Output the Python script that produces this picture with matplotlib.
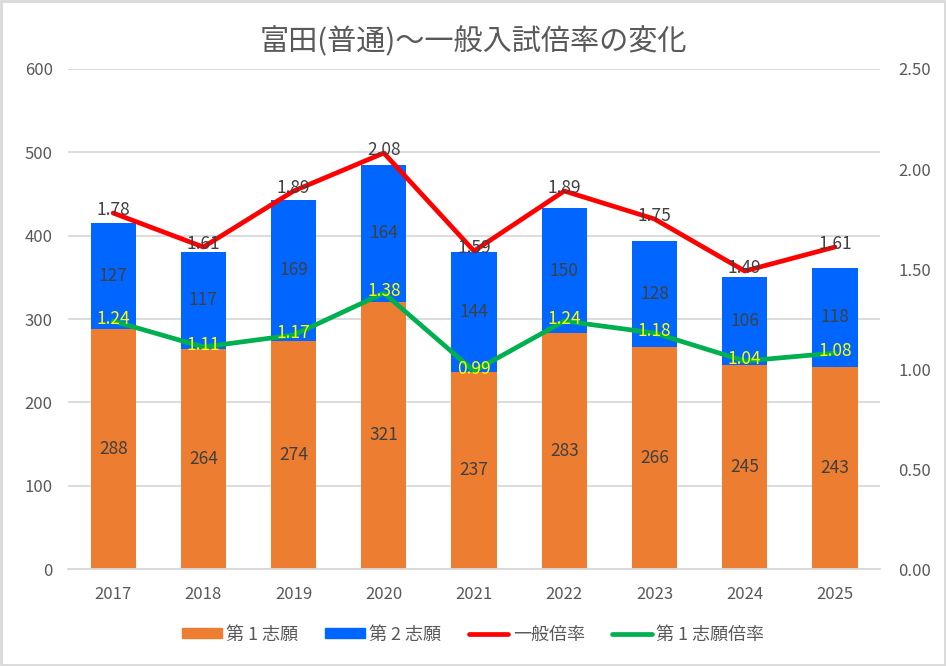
import numpy as np
import matplotlib.pyplot as plt
from matplotlib.patches import Patch, Rectangle
from matplotlib.lines import Line2D

plt.rcParams['font.family'] = ['Noto Sans CJK JP', 'DejaVu Sans']

# データ
years = ['2017', '2018', '2019', '2020', '2021', '2022', '2023', '2024', '2025']
first_choice = [288, 264, 274, 321, 237, 283, 266, 245, 243]
second_choice = [127, 117, 169, 164, 144, 150, 128, 106, 118]
general_ratio = [1.78, 1.61, 1.89, 2.08, 1.59, 1.89, 1.75, 1.49, 1.61]
first_ratio = [1.24, 1.11, 1.17, 1.38, 0.99, 1.24, 1.18, 1.04, 1.08]

orange = '#ED7D31'
blue = '#0066FF'
red = '#FF0000'
green = '#00B050'
txt = '#595959'
lab = '#404040'

fig = plt.figure(figsize=(9.46, 6.66), dpi=100)
ax = fig.add_axes([0.0719, 0.1456, 0.8584, 0.7508])
ax2 = ax.twinx()

x = np.arange(len(years))
w = 0.5
b1 = ax.bar(x, first_choice, w, color=orange, zorder=2)
b2 = ax.bar(x, second_choice, w, bottom=first_choice, color=blue, zorder=2)
ax.bar_label(b1, label_type='center', color=lab, fontsize=12.5)
ax.bar_label(b2, label_type='center', color=lab, fontsize=12.5)

ax.set_ylim(0, 600)
ax.set_yticks(range(0, 601, 100))
ax.set_xlim(-0.5, len(years) - 0.5)
ax.set_xticks(x)
ax.set_xticklabels(years)
ax.grid(axis='y', color='#D9D9D9', linewidth=1.3, zorder=0)
ax.set_axisbelow(True)

ax2.plot(x, general_ratio, color=red, linewidth=3.4, solid_capstyle='round', zorder=3)
ax2.plot(x, first_ratio, color=green, linewidth=3.4, solid_capstyle='round', zorder=3)
for i in range(len(years)):
    ax2.text(x[i], general_ratio[i] + 0.015, '%.2f' % general_ratio[i], ha='center', va='center',
             color=lab, fontsize=12.5, zorder=4)
    ax2.text(x[i], first_ratio[i] + 0.01, '%.2f' % first_ratio[i], ha='center', va='center',
             color='#FFFF00', fontsize=12.5, zorder=4)
ax2.set_ylim(0, 2.5)
ax2.set_yticks(np.arange(0, 2.51, 0.5))
ax2.set_yticklabels(['%.2f' % v for v in np.arange(0, 2.51, 0.5)])

for a in (ax, ax2):
    for s in a.spines.values():
        s.set_visible(False)
    a.tick_params(length=0, colors=txt, labelsize=12)
ax.spines['bottom'].set_visible(True)
ax.spines['bottom'].set_color('#D9D9D9')
ax.spines['bottom'].set_linewidth(1.3)
ax.tick_params(axis='x', pad=12)
ax.tick_params(axis='y', pad=11)
ax2.tick_params(axis='y', pad=13)

fig.suptitle('富田(普通)～一般入試倍率の変化', x=0.5, y=0.937, va='center', fontsize=21, color=txt)

handles = [Patch(color=orange), Patch(color=blue),
           Line2D([0], [0], color=red, linewidth=3.4, solid_capstyle='round'),
           Line2D([0], [0], color=green, linewidth=3.4, solid_capstyle='round')]
labels = ['第 1 志願', '第 2 志願', '一般倍率', '第 1 志願倍率']
fig.legend(handles, labels, loc='center', bbox_to_anchor=(0.5, 0.047), ncol=4, frameon=False,
           fontsize=13, labelcolor=txt, handlelength=2.2, handleheight=0.5, handletextpad=0.25,
           columnspacing=1.5, borderpad=0)

# 外枠
fig.patches.append(Rectangle((0.001, 0.0015), 0.998, 0.997, transform=fig.transFigure,
                             fill=False, edgecolor='#D9D9D9', linewidth=2))

fig.savefig('out.png', dpi=100, facecolor='white')
